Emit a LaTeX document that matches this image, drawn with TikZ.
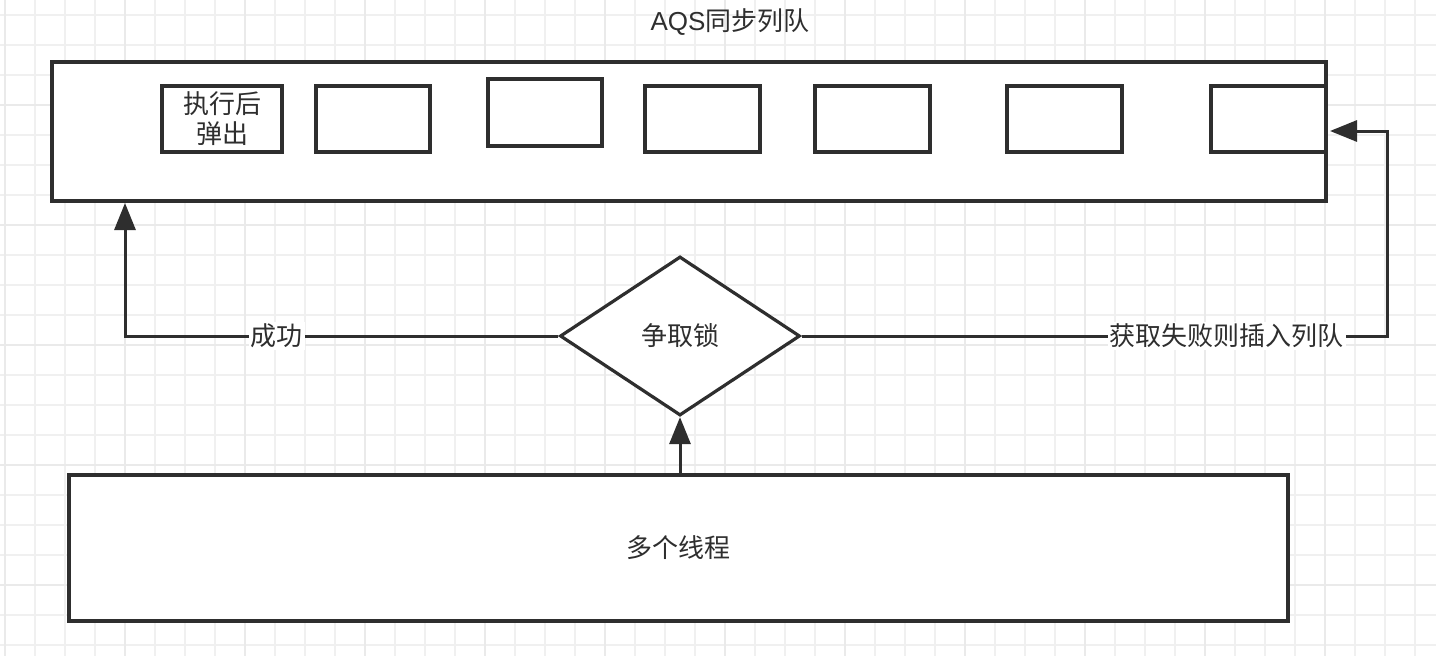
\documentclass[tikz,border=0pt]{standalone}
\usepackage{fontspec}
\setmainfont{Noto Sans CJK SC}
\newfontfamily\latinfont{Liberation Sans}
\usetikzlibrary{shapes.geometric,arrows.meta}
\definecolor{ink}{HTML}{2E2E2E}
\definecolor{gridminor}{HTML}{F0F0F0}
\definecolor{gridmajor}{HTML}{EAEAEA}
\tikzset{
  box/.style={draw=ink, line width=3.2pt, fill=white, inner sep=0pt, text=ink},
  cell/.style={box, minimum width=115pt, minimum height=66pt},
  decision/.style={box, diamond, minimum width=240pt, minimum height=159pt},
  conn/.style={draw=ink, line width=3pt},
  arr/.style={conn, -{Triangle[length=27pt, width=21pt]}},
  lbl/.style={fill=white, text=ink, inner sep=2pt},
}
\begin{document}
\begin{tikzpicture}[x=1pt, y=-1pt, font=\fontsize{26}{32}\selectfont]
\useasboundingbox (0,0) rectangle (1436,656);
\fill[white] (0,0) rectangle (1436,656);
% background grid
\foreach \gx in {5,35,...,1435} \draw[gridminor, line width=1.4pt] (\gx,0) -- (\gx,656);
\foreach \gy in {15,45,...,655} \draw[gridminor, line width=1.4pt] (0,\gy) -- (1436,\gy);
\foreach \gx in {5,125,...,1435} \draw[gridmajor, line width=1.4pt] (\gx,0) -- (\gx,656);
\foreach \gy in {105,225,...,655} \draw[gridmajor, line width=1.4pt] (0,\gy) -- (1436,\gy);

% title
\node[text=ink] (title) at (730,22) {{\latinfont AQS}同步列队};

% the synchronisation queue and its waiting nodes
\node[box, minimum width=1274pt, minimum height=139pt] (queue) at (689,131.5) {};
\node[cell, minimum width=120pt, align=center] (c1) at (222,119) {执行后\\[-2pt]弹出};
\node[cell, minimum width=114pt] (c2) at (373,119) {};
\node[cell, minimum width=114pt, minimum height=67pt] (c3) at (545,112.5) {};
\node[cell] (c4) at (702.5,119) {};
\node[cell] (c5) at (872.5,119) {};
\node[cell] (c6) at (1064.5,119) {};
\node[cell] (c7) at (1268.5,119) {};

% lock contention
\node[decision] (lock) at (680,336) {争取锁};

% competing threads
\node[box, minimum width=1219pt, minimum height=146pt] (threads) at (678.5,548) {多个线程};

% connectors
\coordinate (okin) at (125,203);
\coordinate (failcorner) at (1387,336);
\coordinate (failin) at (1330,131);

\draw[arr] (lock.south |- threads.north) -- (lock.south);
\draw[arr] (lock.west) -| node[lbl, pos=0.325] {成功} (okin);
\draw[arr] (lock.east) -- node[lbl, pos=0.726] {获取失败则插入列队} (failcorner) |- (failin);
\end{tikzpicture}
\end{document}
